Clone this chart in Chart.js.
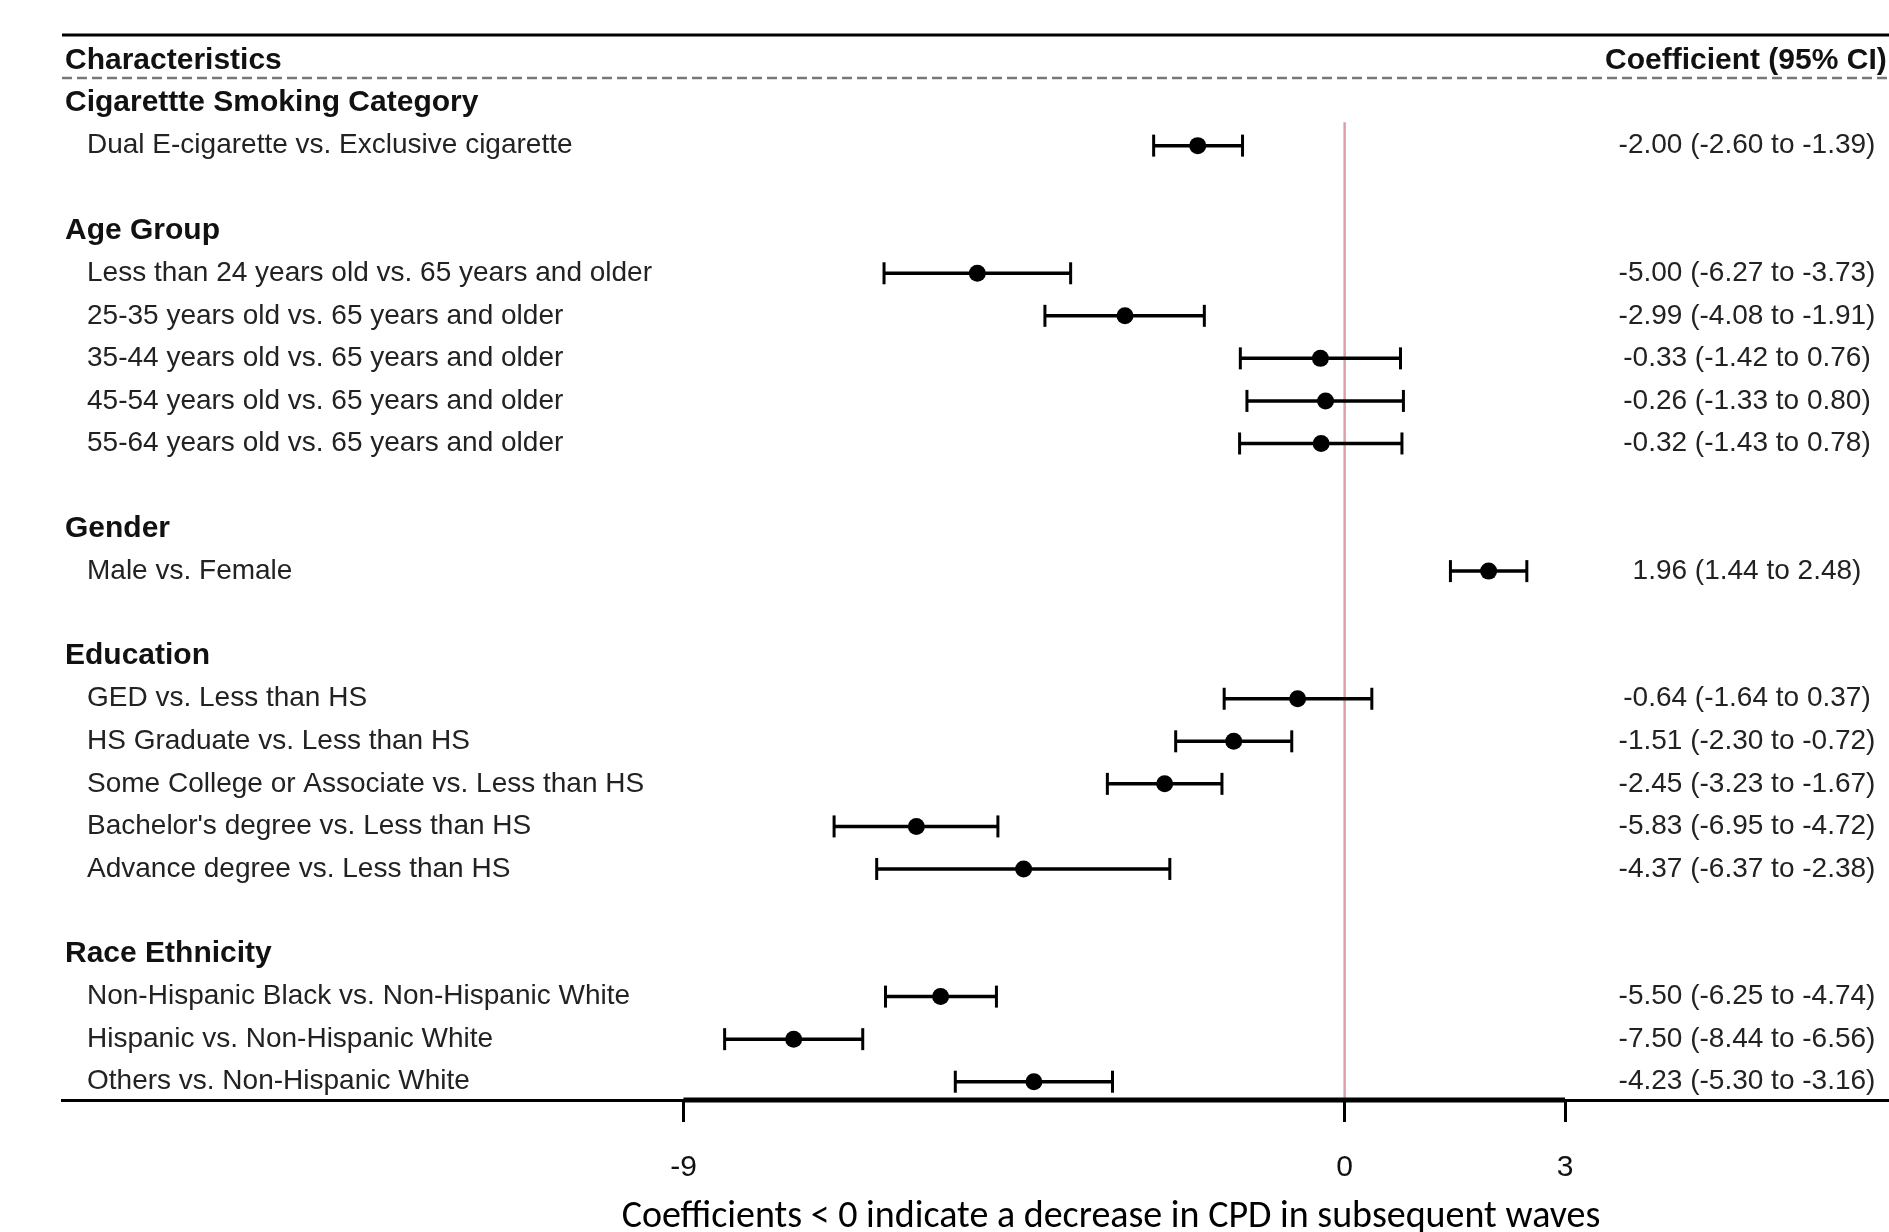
<!DOCTYPE html>
<html>
<head>
<meta charset="utf-8">
<script src="https://cdn.jsdelivr.net/npm/chart.js@4"></script>
<style>
  html, body { margin: 0; padding: 0; background: #fff; overflow: hidden; }
  #wrap { width: 1889px; height: 1232px; }
  canvas { display: block; }
</style>
</head>
<body>
<div id="wrap"><canvas id="myChart" width="1889" height="1232"></canvas></div>
<script>
// data
var groups = ['Cigarettte Smoking Category', 'Age Group', 'Gender', 'Education', 'Race Ethnicity'];
var labels = [
  'Dual E-cigarette vs. Exclusive cigarette',
  'Less than 24 years old vs. 65 years and older',
  '25-35 years old vs. 65 years and older',
  '35-44 years old vs. 65 years and older',
  '45-54 years old vs. 65 years and older',
  '55-64 years old vs. 65 years and older',
  'Male vs. Female',
  'GED vs. Less than HS',
  'HS Graduate vs. Less than HS',
  'Some College or Associate vs. Less than HS',
  "Bachelor's degree vs. Less than HS",
  'Advance degree vs. Less than HS',
  'Non-Hispanic Black vs. Non-Hispanic White',
  'Hispanic vs. Non-Hispanic White',
  'Others vs. Non-Hispanic White'
];
var groupOf = [0, 1, 1, 1, 1, 1, 2, 3, 3, 3, 3, 3, 4, 4, 4];
var coef  = [-2.00, -5.00, -2.99, -0.33, -0.26, -0.32, 1.96, -0.64, -1.51, -2.45, -5.83, -4.37, -5.50, -7.50, -4.23];
var lower = [-2.60, -6.27, -4.08, -1.42, -1.33, -1.43, 1.44, -1.64, -2.30, -3.23, -6.95, -6.37, -6.25, -8.44, -5.30];
var upper = [-1.39, -3.73, -1.91, 0.76, 0.80, 0.78, 2.48, 0.37, -0.72, -1.67, -4.72, -2.38, -4.74, -6.56, -3.16];
var xTicks = [-9, 0, 3];

// row slots: 0 = column headers, then group header, its rows, a blank line
var headerSlot = [];
var rowSlot = [];
var slot = 1;
groups.forEach(function (g, gi) {
  headerSlot.push(slot++);
  groupOf.forEach(function (v, i) {
    if (v === gi) rowSlot[i] = slot++;
  });
  slot++;
});

var yMin = -0.6, yMax = 24.43;
var fmt = function (v) { return v.toFixed(2); };

var datasets = [];
// points
datasets.push({
  data: coef.map(function (c, i) { return { x: c, y: rowSlot[i] }; }),
  pointRadius: 8.5,
  pointBackgroundColor: '#000',
  pointBorderWidth: 0,
  order: 0
});
// confidence intervals with caps
coef.forEach(function (c, i) {
  datasets.push({
    data: [{ x: lower[i], y: rowSlot[i] }, { x: upper[i], y: rowSlot[i] }],
    showLine: true,
    borderColor: '#000',
    borderWidth: 3.5,
    pointStyle: 'line',
    rotation: 90,
    pointRadius: 11,
    pointBorderWidth: 3,
    pointBorderColor: '#000',
    order: 1
  });
});
// heavy part of the axis between the outer ticks
datasets.push({
  data: [{ x: xTicks[0], y: yMax }, { x: xTicks[xTicks.length - 1], y: yMax }],
  showLine: true,
  borderColor: '#000',
  borderWidth: 5,
  pointRadius: 0,
  clip: false,
  order: 2
});
// reference line at zero
datasets.push({
  data: [{ x: 0, y: 1.45 }, { x: 0, y: yMax }],
  showLine: true,
  borderColor: 'rgb(222,160,168)',
  borderWidth: 2.5,
  pointRadius: 0,
  order: 3
});

var tablePlugin = {
  id: 'table',
  beforeDatasetsDraw: function (chart) {
    var ctx = chart.ctx;
    var ys = chart.scales.y;
    var area = chart.chartArea;
    ctx.save();
    // top rule
    ctx.strokeStyle = '#000';
    ctx.lineWidth = 3;
    ctx.beginPath();
    ctx.moveTo(area.left, 35);
    ctx.lineTo(chart.width, 35);
    ctx.stroke();
    // dashed rule under headings
    ctx.strokeStyle = '#777';
    ctx.lineWidth = 2.5;
    ctx.setLineDash([10, 5]);
    ctx.beginPath();
    ctx.moveTo(area.left, 78);
    ctx.lineTo(chart.width, 78);
    ctx.stroke();
    ctx.setLineDash([]);

    ctx.textBaseline = 'middle';
    ctx.fillStyle = '#111';
    ctx.font = 'bold 30px "Liberation Sans", Arial, sans-serif';
    ctx.textAlign = 'left';
    ctx.fillText('Characteristics', 65, ys.getPixelForValue(0));
    ctx.fillText('Coefficient (95% CI)', 1605, ys.getPixelForValue(0));
    groups.forEach(function (g, gi) {
      ctx.fillText(g, 65, ys.getPixelForValue(headerSlot[gi]));
    });
    ctx.font = '28px "Liberation Sans", Arial, sans-serif';
    ctx.fillStyle = '#222';
    labels.forEach(function (l, i) {
      var y = ys.getPixelForValue(rowSlot[i]);
      ctx.textAlign = 'left';
      ctx.fillText(l, 87, y);
      ctx.textAlign = 'center';
      ctx.fillText(fmt(coef[i]) + ' (' + fmt(lower[i]) + ' to ' + fmt(upper[i]) + ')', 1747, y);
    });
    // axis caption
    ctx.fillStyle = '#000';
    ctx.font = '38px Carlito, Lato, "Open Sans", sans-serif';
    ctx.textAlign = 'center';
    ctx.fillText('Coefficients < 0 indicate a decrease in CPD in subsequent waves', 1111, 1217);
    ctx.restore();
  }
};

var ctx = document.getElementById('myChart');
var myChart = new Chart(ctx, {
  type: 'scatter',
  data: { datasets: datasets },
  options: {
    responsive: false,
    animation: false,
    events: [],
    layout: { autoPadding: false, padding: { left: 62, top: 35, right: 0, bottom: 0 } },
    plugins: { legend: { display: false }, tooltip: { enabled: false }, title: { display: false } },
    scales: {
      x: {
        type: 'linear',
        min: -17.46,
        max: 7.41,
        afterBuildTicks: function (scale) {
          scale.ticks = xTicks.map(function (v) { return { value: v }; });
        },
        afterFit: function (scale) { scale.height = 132; },
        grid: { drawOnChartArea: false, drawTicks: true, tickLength: 22, tickWidth: 3, tickColor: '#000' },
        border: { display: true, color: '#000', width: 3 },
        ticks: {
          padding: 28,
          color: '#111',
          font: { family: '"Liberation Sans", Arial, sans-serif', size: 30 },
          callback: function (v) { return v; }
        }
      },
      y: {
        type: 'linear',
        display: false,
        reverse: true,
        min: yMin,
        max: yMax
      }
    }
  },
  plugins: [tablePlugin]
});
</script>
</body>
</html>
